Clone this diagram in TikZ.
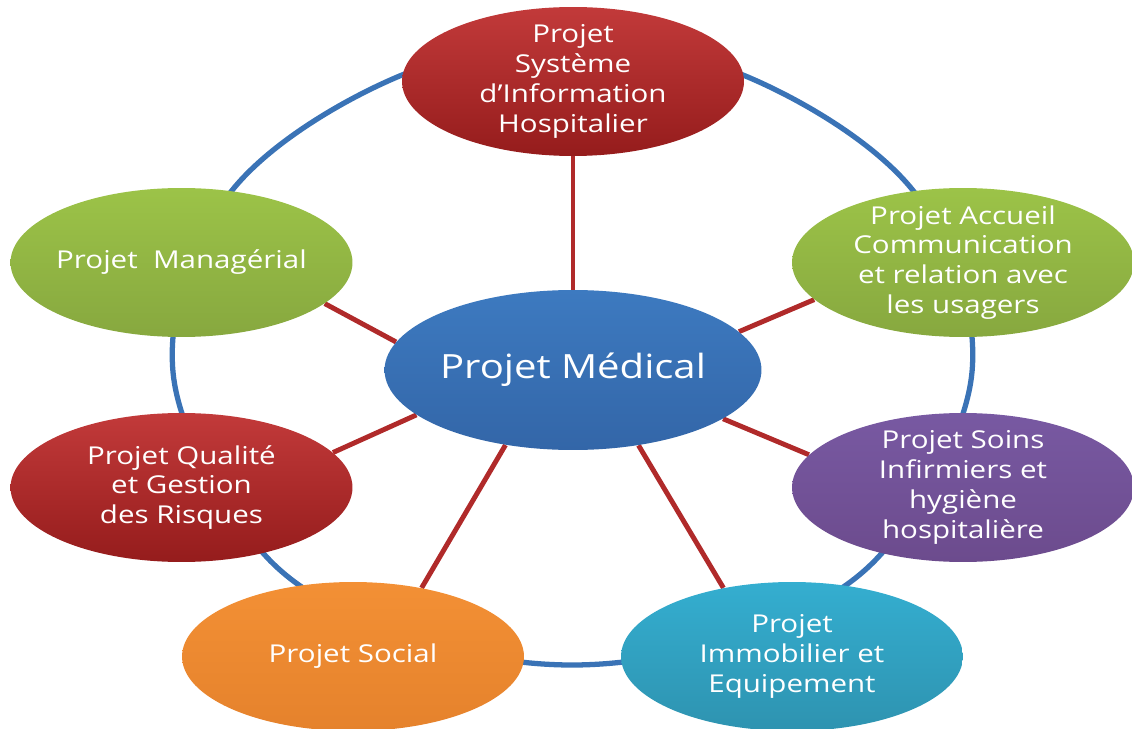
\documentclass[tikz,border=0pt]{standalone}
\usepackage{fontspec}
\setmainfont{Open Sans}[FakeStretch=1.2]
\usetikzlibrary{shapes, backgrounds}

\definecolor{ringblue}{HTML}{3A73B6}
\definecolor{linkred}{HTML}{B02A2A}
\definecolor{redtop}{HTML}{C23A3A}
\definecolor{redbot}{HTML}{951C1C}
\definecolor{greentop}{HTML}{9CC348}
\definecolor{greenbot}{HTML}{87A83F}
\definecolor{purpletop}{HTML}{7859A2}
\definecolor{purplebot}{HTML}{6C4B8D}
\definecolor{tealtop}{HTML}{34AED0}
\definecolor{tealbot}{HTML}{2E93B0}
\definecolor{orangetop}{HTML}{F39035}
\definecolor{orangebot}{HTML}{E5822C}
\definecolor{bluetop}{HTML}{3D7AC0}
\definecolor{bluebot}{HTML}{3366A8}

\begin{document}
\begin{tikzpicture}[x=0.02cm, y=-0.02cm,
  proj/.style={ellipse, minimum width=6.84cm, minimum height=2.98cm,
    inner sep=-2cm, align=center, text=white,
    font=\fontsize{14}{17}\selectfont},
  link/.style={draw=linkred, line width=2.8pt},
  ring/.style={draw=ringblue, line width=3pt}]
  \useasboundingbox (0,0) rectangle (1132,729);

  % centre
  \node[proj, minimum width=7.54cm, minimum height=3.2cm,
        top color=bluetop, bottom color=bluebot,
        font=\fontsize{19}{23}\selectfont] (medical) at (573,370) {Projet Médical};

  % projets autour
  \node[proj, top color=redtop, bottom color=redbot] (sih) at (573,81.5)
    {Projet\\Système\\d’Information\\Hospitalier};
  \node[proj, top color=greentop, bottom color=greenbot] (accueil) at (963,262.5)
    {Projet Accueil\\Communication\\et relation avec\\les usagers};
  \node[proj, top color=purpletop, bottom color=purplebot] (soins) at (963,487.5)
    {Projet Soins\\Infirmiers et\\hygiène\\hospitalière};
  \node[proj, top color=tealtop, bottom color=tealbot] (immo) at (792,656.5)
    {Projet\\Immobilier et\\Equipement};
  \node[proj, top color=orangetop, bottom color=orangebot] (social) at (353,656.5)
    {Projet Social};
  \node[proj, top color=redtop, bottom color=redbot] (qualite) at (181.5,487.5)
    {Projet Qualité\\et Gestion\\des Risques};
  \node[proj, top color=greentop, bottom color=greenbot] (manag) at (181.5,262.5)
    {Projet~~Managérial};

  \begin{scope}[on background layer]
    % anneau
    \draw[ring] plot[smooth cycle, tension=0.6] coordinates {
      (572,52) (743,75) (915,193) (972,372)
      (882,553) (740,635) (572,665) (405,635) (263,553)
      (173,372) (230,193) (402,75)};
    % liens
    \draw[link] (medical) -- (sih);
    \draw[link] (medical.13) -- (accueil.194);
    \draw[link] (medical.342) -- (soins.168);
    \draw[link] (medical.311) -- (immo.135);
    \draw[link] (medical.228) -- (social.45);
    \draw[link] (medical.196) -- (qualite.13);
    \draw[link] (medical.171) -- (manag.344);
  \end{scope}
\end{tikzpicture}
\end{document}
